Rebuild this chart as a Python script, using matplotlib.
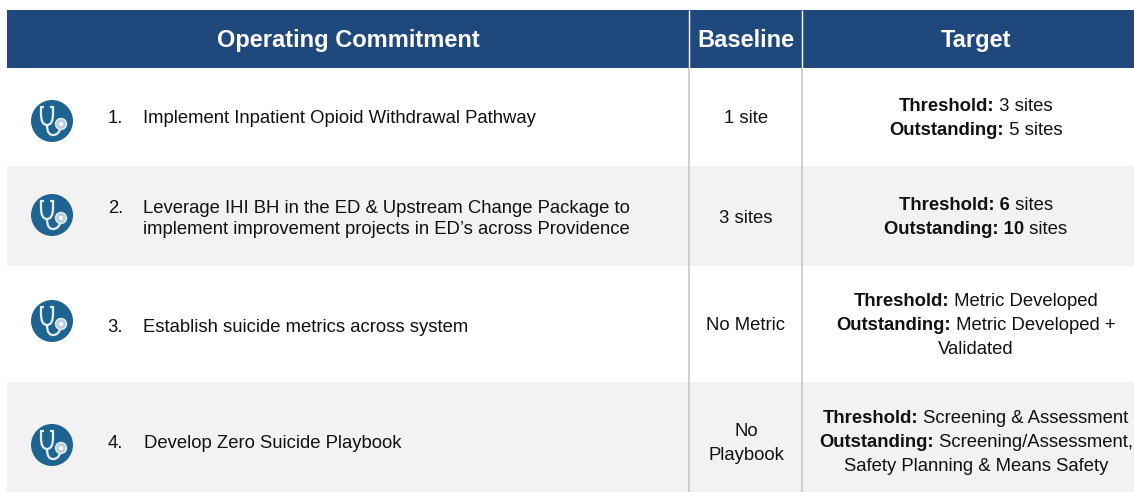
import matplotlib
matplotlib.use("Agg")
import matplotlib.pyplot as plt
from matplotlib.patches import Rectangle, Circle, PathPatch
from matplotlib.path import Path

plt.rcParams['font.family'] = ['Liberation Sans', 'DejaVu Sans']

W, H = 1134, 492
headers = ["Operating Commitment", "Baseline", "Target"]
numbers = ["1.", "2.", "3.", "4."]
commitments = [
    ["Implement Inpatient Opioid Withdrawal Pathway"],
    ["Leverage IHI BH in the ED & Upstream Change Package to",
     "implement improvement projects in ED\u2019s across Providence"],
    ["Establish suicide metrics across system"],
    ["Develop Zero Suicide Playbook"],
]
baselines = [["1 site"], ["3 sites"], ["No Metric"], ["No", "Playbook"]]
targets = [
    [[("Threshold:", True), (" 3 sites", False)],
     [("Outstanding:", True), (" 5 sites", False)]],
    [[("Threshold: 6", True), (" sites", False)],
     [("Outstanding: 10", True), (" sites", False)]],
    [[("Threshold:", True), (" Metric Developed", False)],
     [("Outstanding:", True), (" Metric Developed +", False)],
     [("Validated", False)]],
    [[("Threshold:", True), (" Screening & Assessment", False)],
     [("Outstanding:", True), (" Screening/Assessment,", False)],
     [("Safety Planning & Means Safety", False)]],
]

NAVY = "#1F497D"
BAND = "#F2F2F2"
INK = "#111111"
FS = 13.3
LINE = 24
COMMIT_LINE = 21

row_tops = [68, 166, 266, 382]
row_bots = [166, 266, 382, 492]
commit_centers = [116.5, 217, 325.5, 441.5]
base_centers = [116.5, 216.5, 323.5, 441]
target_centers = [116.5, 215.5, 323.5, 440.5]
icon_centers = [121, 215, 321, 445]
num_x = [108, 108, 107, 108]
text_x = [143, 143, 143, 144]
COL1, COL2 = 689, 802
BASE_X = 746
TARGET_X = [976, 976, 976, 976]

fig = plt.figure(figsize=(W / 100, H / 100), dpi=100)
ax = fig.add_axes([0, 0, 1, 1])
ax.set_xlim(0, W)
ax.set_ylim(H, 0)
ax.axis("off")

# bands
for i in (1, 3):
    ax.add_patch(Rectangle((7, row_tops[i]), W - 7, row_bots[i] - row_tops[i],
                           fc=BAND, ec="none", zorder=1))
# header
ax.add_patch(Rectangle((7, 10), W - 7, 58, fc=NAVY, ec="none", zorder=2))
for x in (COL1, COL2):
    ax.plot([x, x], [10, 68], color="white", lw=1.0, zorder=3, solid_capstyle="butt")
    ax.plot([x, x], [68, H], color="#C4C4C4", lw=1.1, zorder=3, solid_capstyle="butt")

for label, x in zip(headers, [348, 746, 976]):
    ax.text(x, 47, label, color="white", fontsize=17, fontweight="bold",
            ha="center", va="baseline", zorder=4)


def icon(cx, cy):
    stroke = "#E4EEF4"
    ax.add_patch(Circle((cx, cy), 21, fc="#1F6490", ec="none", zorder=3))
    verts = [(cx - 8, cy - 14), (cx - 11, cy - 14), (cx - 11, cy - 7),
             (cx - 11, cy + 4), (cx - 5, cy + 4), (cx + 1, cy + 4), (cx + 1, cy - 7),
             (cx + 1, cy - 14), (cx - 2, cy - 14)]
    codes = [Path.MOVETO, Path.LINETO, Path.LINETO, Path.CURVE3, Path.CURVE3,
             Path.CURVE3, Path.CURVE3, Path.LINETO, Path.LINETO]
    ax.add_patch(PathPatch(Path(verts, codes), fc="none", ec=stroke, lw=1.6, zorder=4))
    tube = [(cx - 5, cy + 4), (cx - 5, cy + 15), (cx + 2, cy + 14),
            (cx + 7, cy + 13), (cx + 8, cy + 8)]
    tcodes = [Path.MOVETO, Path.CURVE3, Path.CURVE3, Path.CURVE3, Path.CURVE3]
    ax.add_patch(PathPatch(Path(tube, tcodes), fc="none", ec=stroke, lw=1.6, zorder=4))
    ax.add_patch(Circle((cx + 9, cy + 3), 5.5, fc="#B9CFDD", ec=stroke, lw=1, zorder=4))
    ax.add_patch(Circle((cx + 9, cy + 3), 2, fc="white", ec="none", zorder=5))


def stacked(lines, cy, gap=LINE):
    return [cy + (i - (len(lines) - 1) / 2) * gap for i in range(len(lines))]


renderer = fig.canvas.get_renderer()


def rich_line(parts, cx, y):
    items = [ax.text(0, y, s, fontsize=FS, color=INK, va="center_baseline",
                     fontweight="bold" if b else "normal", zorder=4) for s, b in parts]
    widths = []
    for s, b in parts:
        probe = ax.text(0, y, s.replace(" ", "\u00a0"), fontsize=FS,
                        fontweight="bold" if b else "normal")
        widths.append(probe.get_window_extent(renderer).width)
        probe.remove()
    x = cx - sum(widths) / 2
    for t, w in zip(items, widths):
        t.set_x(x)
        x += w


for i in range(4):
    icon(52, icon_centers[i])
    cy = commit_centers[i]
    ys = stacked(commitments[i], cy, COMMIT_LINE)
    ax.text(num_x[i], ys[0], numbers[i], fontsize=FS, color=INK,
            va="center_baseline", zorder=4)
    for s, y in zip(commitments[i], ys):
        ax.text(text_x[i], y, s, fontsize=FS, color=INK, va="center_baseline", zorder=4)
    for s, y in zip(baselines[i], stacked(baselines[i], base_centers[i])):
        ax.text(BASE_X, y, s, fontsize=FS, color=INK, ha="center", va="center_baseline", zorder=4)
    for parts, y in zip(targets[i], stacked(targets[i], target_centers[i])):
        rich_line(parts, TARGET_X[i], y)

fig.savefig("out.png", dpi=100, facecolor="white")
